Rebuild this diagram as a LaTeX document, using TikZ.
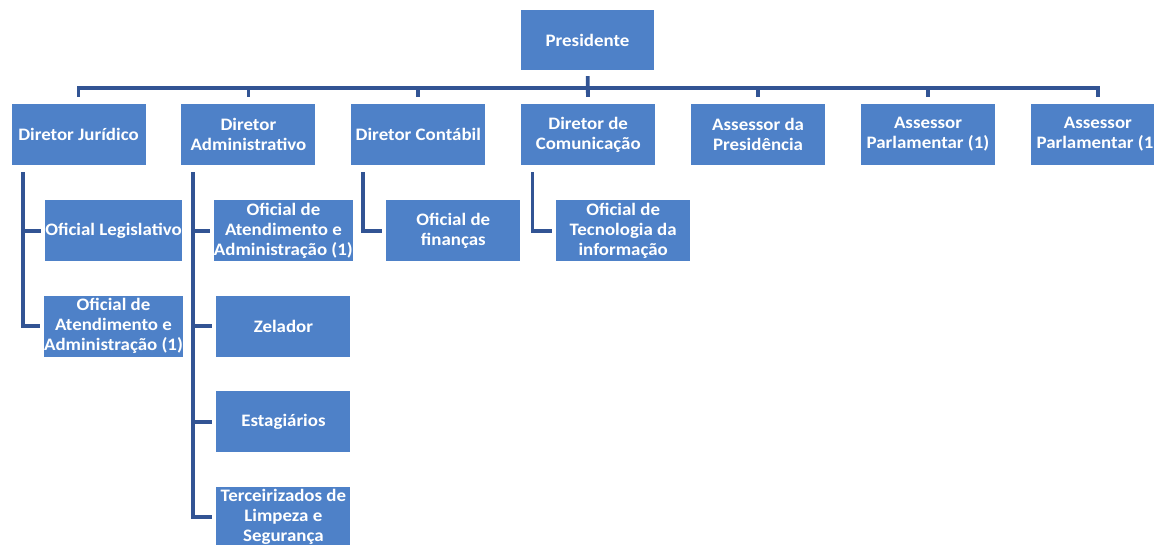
\documentclass[tikz,border=0pt]{standalone}
\usepackage{fontspec}
\setmainfont{Carlito}[FakeStretch=1.08]
\usetikzlibrary{positioning,calc}

\definecolor{boxblue}{RGB}{78,129,200}
\definecolor{lineblue}{RGB}{50,84,148}

\begin{document}
\begin{tikzpicture}[
    x=1pt, y=1pt,
    node distance=34pt and 35.5pt, % row gap and column gap of the chart
    basebox/.style={
        fill=boxblue,
        text=white,
        font=\bfseries\fontsize{17.5}{20}\selectfont,
        align=center,
        inner sep=0pt,
        minimum width=134pt,
        minimum height=61pt
    },
    headbox/.style={
        basebox,
        minimum width=133pt,
        minimum height=60pt
    },
    topbox/.style={basebox},
    subbox/.style={basebox},
    conn/.style={draw=lineblue, line width=3.8pt},
    drop/.style={conn, shorten >=7pt},
    branch/.style={conn, shorten <=7pt, shorten >=4pt}
]
\useasboundingbox (0,0) rectangle (1154,-544);

% --- NODES ---
\node[headbox] (pres) at (587.5,-40) {Presidente};

% First level (one row, left to right)
\node[topbox] (dj) at (78.5,-134.5) {Diretor Jurídico};
\node[topbox, right=of dj] (da) {Diretor\\Administrativo};
\node[topbox, right=of da] (dc) {Diretor Contábil};
\node[topbox, right=of dc] (dcom) {Diretor de\\Comunicação};
\node[topbox, right=of dcom] (apres) {Assessor da\\Presidência};
\node[topbox, right=of apres] (apar) {Assessor\\Parlamentar (1)};
\node[topbox, right=of apar] (aparb) {Assessor\\Parlamentar (1)};

% Second level (columns under the directors)
\node[subbox, below=35pt of dj, xshift=35pt] (djleg) {Oficial Legislativo};
\node[subbox, below=of djleg] (djoaa) {Oficial de\\Atendimento e\\Administração (1)};

\node[subbox, below=35pt of da, xshift=35pt] (daoaa) {Oficial de\\Atendimento e\\Administração (1)};
\node[subbox, below=of daoaa] (dazel) {Zelador};
\node[subbox, below=of dazel] (daest) {Estagiários};
\node[subbox, below=of daest] (dater) {Terceirizados de\\Limpeza e\\Segurança};

\node[subbox, below=35pt of dc, xshift=35pt] (dcfin) {Oficial de\\finanças};

\node[subbox, below=35pt of dcom, xshift=35pt] (dcomti) {Oficial de\\Tecnologia da\\informação};

% --- CONNECTIONS ---
\coordinate (bar) at ($(pres.south)+(0,-18)$);
\draw[drop, shorten <=6pt] (pres) -- (dcom);
\draw[drop] (bar) -| (dj.north);
\draw[drop] (bar) -| (da.north);
\draw[drop] (bar) -| (dc.north);
\draw[drop] (bar) -| (apres.north);
\draw[drop] (bar) -| (apar.north);
\draw[drop] (bar) -| (aparb.north);

% Branch lines down the left side of each column
\draw[branch] ([xshift=11.5pt]dj.south west) |- (djleg.west);
\draw[branch] ([xshift=11.5pt]dj.south west) |- (djoaa.west);

\draw[branch] ([xshift=11.5pt]da.south west) |- (daoaa.west);
\draw[branch] ([xshift=11.5pt]da.south west) |- (dazel.west);
\draw[branch] ([xshift=11.5pt]da.south west) |- (daest.west);
\draw[branch] ([xshift=11.5pt]da.south west) |- (dater.west);

\draw[branch] ([xshift=11.5pt]dc.south west) |- (dcfin.west);
\draw[branch] ([xshift=11.5pt]dcom.south west) |- (dcomti.west);

\end{tikzpicture}
\end{document}
